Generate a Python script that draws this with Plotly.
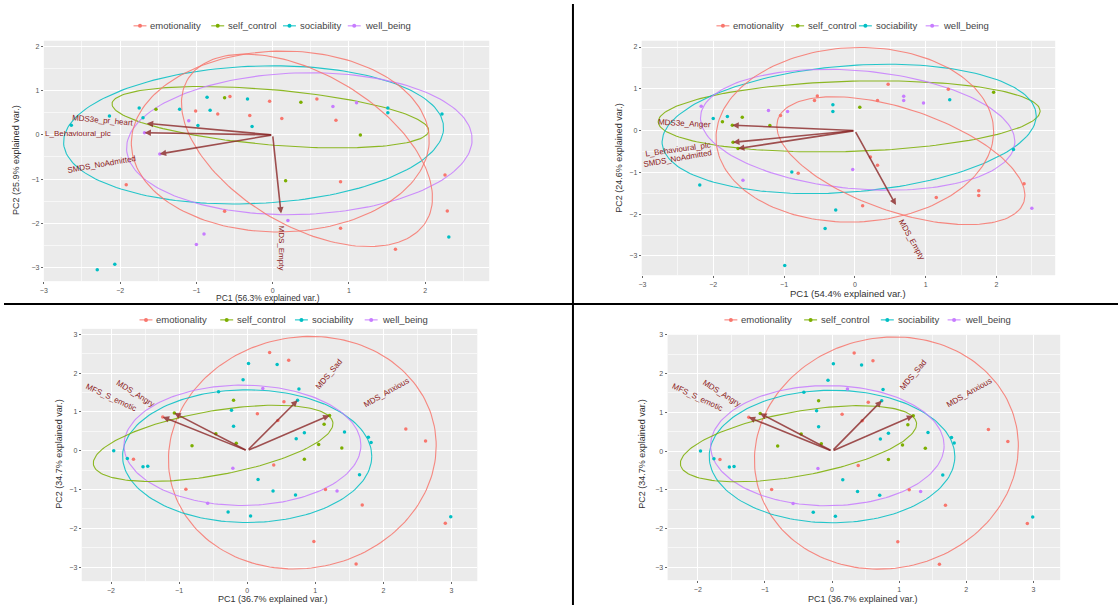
import numpy as np
import plotly.graph_objects as go

W, H = 1118, 605
groups = ["emotionality", "self_control", "sociability", "well_being"]
colors = ["#F8766D", "#7CAE00", "#00BFC4", "#C77CFF"]

# ---------------- Panel 1 (top-left) ----------------
p1_x = [-0.86, -0.63, -0.56, -0.33, -0.04, 0.37, 0.58, 0.79, 1.10, 1.51, 1.51, 2.22, -1.75, -1.53, -1.22,
        -1.01, -0.82, -0.72, -0.30, -2.14, -1.70, -1.10, 0.12, 0.83, -2.64, -0.98, -0.27, 1.15, 2.26, 0.17,
        0.89, -1.92, -0.63, 2.29, 0.20, 0.89, -0.90, 2.31, -1.00, 1.61, -2.07, -2.30, -1.68, -1.48]
p1_y = [0.85, 0.84, 0.87, 0.81, 0.76, 0.74, 0.81, 0.64, 0.73, 0.61, 0.50, 0.47, 0.61, 0.58, 0.58,
        0.54, 0.56, 0.47, 0.44, 0.43, 0.39, 0.32, 0.37, 0.33, 0.22, 0.21, 0.19, 0.00, -0.91, -1.04,
        -1.06, -1.13, -1.73, -1.72, -1.94, -2.11, -2.24, -2.31, -2.48, -2.59, -2.93, -3.05, 0.05, -0.43]
p1_g = [2, 1, 0, 2, 0, 1, 0, 3, 3, 2, 2, 2, 2, 1, 2,
        0, 2, 0, 0, 2, 2, 3, 0, 0, 2, 2, 2, 1, 0, 1,
        0, 0, 0, 0, 3, 0, 3, 2, 3, 0, 2, 2, 3, 3]
p1_arrow_x = [-1.65, -1.68, -1.48, 0.11]
p1_arrow_y = [0.26, 0.05, -0.43, -1.78]
p1_labels = ["MDS3e_pr_heart", "L_Behavioural_plc", "SMDS_NoAdmitted", "MDS_Empty"]
p1_label_x = [-2.22, -2.55, -2.25, 0.11]
p1_label_y = [0.33, 0.02, -0.68, -2.55]
p1_label_ang = [5, 0, -10, 90]
# ellipses: group, centre x, centre y, semi-axis a, semi-axis b, angle (deg)
p1_ell_g = [2, 1, 3, 0, 0]
p1_ell_cx = [-0.25, -0.03, 0.35, 0.45, 0.10]
p1_ell_cy = [0.00, 0.40, -0.20, -0.35, -0.15]
p1_ell_a = [2.50, 2.10, 2.27, 2.40, 1.95]
p1_ell_b = [1.55, 0.62, 1.60, 1.30, 2.05]
p1_ell_ang = [6, -9, 5, -60, -10]

# ---------------- Panel 2 (top-right) ----------------
p2_x = [0.47, 1.32, 1.96, -0.53, 0.69, 0.69, 1.34, 0.97, -0.57, 0.32, -0.31, -0.31, 0.07, -1.22, -0.95,
        -1.05, -2.00, -1.87, -1.80, -1.59, -1.20, 2.24, 0.22, 0.32, -0.03, -0.89, -0.80, -1.58, -2.19, 2.39,
        1.75, 1.75, 1.15, 0.11, 2.50, -0.27, -0.42, -0.99, -1.72, -1.65, -1.73, -2.17]
p2_y = [1.11, 0.99, 0.92, 0.83, 0.82, 0.72, 0.74, 0.66, 0.72, 0.72, 0.62, 0.46, 0.56, 0.48, 0.46,
        0.36, 0.29, 0.21, 0.34, 0.32, 0.12, -0.45, -0.63, -0.83, -0.93, -0.99, -1.02, -1.19, -1.30, -1.27,
        -1.44, -1.55, -1.60, -1.80, -1.86, -1.90, -2.34, -3.23, -0.28, -0.43, 0.13, 0.58]
p2_g = [0, 0, 1, 0, 3, 3, 2, 3, 0, 0, 2, 2, 1, 3, 3,
        0, 2, 1, 2, 1, 1, 2, 0, 0, 3, 2, 0, 3, 2, 0,
        0, 0, 0, 0, 3, 2, 2, 2, 1, 1, 1, 3]
p2_arrow_x = [-1.73, -1.72, -1.65, 0.58]
p2_arrow_y = [0.13, -0.28, -0.43, -1.78]
p2_labels = ["MDS3e_Anger", "L_Behavioural_plc", "SMDS_NoAdmitted", "MDS_Empty"]
p2_label_x = [-2.40, -2.50, -2.50, 0.80]
p2_label_y = [0.17, -0.45, -0.67, -2.61]
p2_label_ang = [3, -8, -10, 61]
p2_ell_g = [1, 2, 3, 0, 0]
p2_ell_cx = [-0.08, -0.08, 0.04, 0.65, 0.00]
p2_ell_cy = [0.34, 0.04, 0.02, -0.72, -0.10]
p2_ell_a = [2.70, 2.67, 2.25, 2.05, 1.95]
p2_ell_b = [0.84, 1.50, 1.40, 1.10, 2.10]
p2_ell_ang = [3, 10, -12, -38, -15]

# ---------------- Panels 3 & 4 (bottom) ----------------
p3_x = [0.33, 0.02, 0.44, 0.61, -0.06, -0.42, 0.23, 0.76, -0.20, 0.54, -0.23, 0.15, -0.20, -0.46, -0.16,
        0.45, 1.13, 1.43, 0.72, 0.84, 1.05, 1.39, 1.78, 1.82, 2.33, 2.62, -0.81, -1.96, -1.76, -1.67,
        -1.53, -1.46, -0.21, 0.84, 0.39, 1.65, 0.16, -0.90, 0.38, 0.71, 1.15, 1.32, -0.58, 1.69, -0.28,
        0.05, 2.99, 2.91, 0.98, 1.60, -1.07, -1.24, 0.74, 1.21]
p3_y = [2.53, 2.25, 2.22, 2.33, 1.83, 1.52, 1.60, 1.59, 1.30, 1.26, 1.04, 0.95, 0.63, 0.44, 0.19,
        0.78, 0.68, 0.48, 0.31, 0.46, 0.16, 0.07, 0.35, 0.21, 0.56, 0.25, 0.13, 0.00, -0.20, -0.22,
        -0.41, -0.40, -0.45, -0.22, -0.37, -0.62, -0.74, -0.99, -1.04, -1.14, -1.00, -1.04, -1.35, -1.40, -1.58,
        -1.68, -1.70, -1.87, -2.34, -2.92, 0.97, 0.87, 1.30, 0.91]
p3_g = [0, 2, 2, 0, 2, 2, 3, 2, 1, 0, 2, 0, 2, 1, 1,
        0, 1, 2, 2, 2, 1, 1, 2, 2, 0, 0, 1, 2, 2, 0,
        2, 2, 3, 1, 0, 2, 2, 0, 2, 2, 0, 3, 3, 0, 2,
        2, 2, 0, 0, 0, 1, 0, 2, 1]
p3_arrow_x = [-1.07, -1.24, 0.74, 1.21]
p3_arrow_y = [0.97, 0.87, 1.30, 0.91]
p3_labels = ["MDS_Angry", "MFS_S_emotic", "MDS_Sad", "MDS_Anxious"]
p3_label_x = [-1.64, -2.00, 1.20, 2.05]
p3_label_y = [1.48, 1.38, 1.96, 1.50]
p3_label_ang = [32, 25, -50, -30]
p3_ell_g = [0, 2, 3, 1]
p3_ell_cx = [0.81, 0.00, -0.07, -0.50]
p3_ell_cy = [-0.05, -0.14, 0.14, 0.19]
p3_ell_a = [1.96, 1.83, 1.74, 1.85]
p3_ell_b = [3.00, 1.71, 1.55, 0.80]
p3_ell_ang = [-4, 0, 0, 20]

x_titles = ["PC1 (56.3% explained var.)", "PC1 (54.4% explained var.)",
            "PC1 (36.7% explained var.)", "PC1 (36.7% explained var.)"]
y_titles = ["PC2 (25.9% explained var.)", "PC2 (24.6% explained var.)",
            "PC2 (34.7% explained var.)", "PC2 (34.7% explained var.)"]

# pixel boxes of the four panels (left, top, right, bottom) and data ranges
boxes = [(40, 37, 487, 279), (640, 37, 1055, 273), (78, 327, 475, 581), (666, 333, 1060, 580)]
xranges = [[-3.0, 2.84], [-3.01, 2.83], [-2.43, 3.38], [-2.45, 3.40]]
yranges = [[-3.31, 2.13], [-3.46, 2.15], [-3.36, 3.14], [-3.33, 3.00]]
# legend: key start x positions per panel (px) and row y
legend_keys_x = [[130, 208, 280, 345], [715, 790, 858, 925], [136, 217, 292, 362], [723, 803, 880, 947]]
legend_y = [22, 22, 318, 318]
xtitle_pos = [(265, 296), (847, 291), (270, 599), (862, 599)]
ytitle_pos = [(12, 157), (617, 155), (55, 453), (640, 453)]
xtitle_size = [8.5, 9.5, 9, 9]

panels = [
    (p1_x, p1_y, p1_g, p1_arrow_x, p1_arrow_y, p1_labels, p1_label_x, p1_label_y, p1_label_ang,
     p1_ell_g, p1_ell_cx, p1_ell_cy, p1_ell_a, p1_ell_b, p1_ell_ang),
    (p2_x, p2_y, p2_g, p2_arrow_x, p2_arrow_y, p2_labels, p2_label_x, p2_label_y, p2_label_ang,
     p2_ell_g, p2_ell_cx, p2_ell_cy, p2_ell_a, p2_ell_b, p2_ell_ang),
    (p3_x, p3_y, p3_g, p3_arrow_x, p3_arrow_y, p3_labels, p3_label_x, p3_label_y, p3_label_ang,
     p3_ell_g, p3_ell_cx, p3_ell_cy, p3_ell_a, p3_ell_b, p3_ell_ang),
    (p3_x, p3_y, p3_g, p3_arrow_x, p3_arrow_y, p3_labels, p3_label_x, p3_label_y, p3_label_ang,
     p3_ell_g, p3_ell_cx, p3_ell_cy, p3_ell_a, p3_ell_b, p3_ell_ang),
]

FONT = "Liberation Sans, Arial, sans-serif"
fig = go.Figure()
annotations = []
shapes = []
layout = {}


def px2paper(x, y):
    return x / W, 1 - y / H


t = np.linspace(0, 2 * np.pi, 181)
for i, (px, py, pg, axx, axy, labs, lx, ly, lang, eg, ecx, ecy, ea, eb, eang) in enumerate(panels):
    n = i + 1
    xa = "x" if n == 1 else f"x{n}"
    ya = "y" if n == 1 else f"y{n}"
    l, tp, r, b = boxes[i]
    base = dict(showgrid=True, gridcolor="white", gridwidth=1.1, zeroline=False, showline=False,
                ticks="outside", ticklen=2, tickcolor="#666", tickwidth=1,
                tickfont=dict(size=7, color="#555", family=FONT), dtick=1, tick0=0,
                minor=dict(dtick=0.5, tick0=0, showgrid=True, gridcolor="#F7F7F7", gridwidth=0.6),
                fixedrange=True)
    layout["xaxis" if n == 1 else f"xaxis{n}"] = dict(base, domain=[l / W, r / W], range=xranges[i], anchor=ya)
    layout["yaxis" if n == 1 else f"yaxis{n}"] = dict(base, domain=[1 - b / H, 1 - tp / H], range=yranges[i], anchor=xa)

    # ellipses
    for g, cx, cy, a, bb, ang in zip(eg, ecx, ecy, ea, eb, eang):
        th = np.deg2rad(ang)
        ex = cx + a * np.cos(t) * np.cos(th) - bb * np.sin(t) * np.sin(th)
        ey = cy + a * np.cos(t) * np.sin(th) + bb * np.sin(t) * np.cos(th)
        fig.add_trace(go.Scatter(x=ex, y=ey, mode="lines", line=dict(color=colors[g], width=1.1),
                                 opacity=0.85, xaxis=xa, yaxis=ya, showlegend=False, hoverinfo="skip"))
    # points
    for g in range(4):
        sx = [x for x, gg in zip(px, pg) if gg == g]
        sy = [y for y, gg in zip(py, pg) if gg == g]
        fig.add_trace(go.Scatter(x=sx, y=sy, mode="markers", marker=dict(color=colors[g], size=3.5),
                                 name=groups[g], xaxis=xa, yaxis=ya, showlegend=False))
    # legend (ggplot-style keys drawn in page pixels)
    for g in range(4):
        kx = legend_keys_x[i][g]
        ky = legend_y[i]
        x0, y0 = px2paper(kx, ky)
        x1, _ = px2paper(kx + 13, ky)
        shapes.append(dict(type="line", xref="paper", yref="paper", x0=x0, x1=x1, y0=y0, y1=y0,
                           line=dict(color=colors[g], width=1)))
        cx0, cy0 = px2paper(kx + 4.5, ky + 2)
        cx1, cy1 = px2paper(kx + 8.5, ky - 2)
        shapes.append(dict(type="circle", xref="paper", yref="paper", x0=cx0, x1=cx1, y0=cy0, y1=cy1,
                           fillcolor=colors[g], line=dict(width=0)))
        tx, ty = px2paper(kx + 15, ky)
        annotations.append(dict(x=tx, y=ty, xref="paper", yref="paper", text=groups[g], showarrow=False,
                                xanchor="left", yanchor="middle",
                                font=dict(size=9.5, color="#444", family=FONT)))
    # arrows
    for ex_, ey_ in zip(axx, axy):
        annotations.append(dict(x=ex_, y=ey_, ax=0, ay=0, xref=xa, yref=ya, axref=xa, ayref=ya,
                                showarrow=True, arrowhead=2, arrowsize=0.8, arrowwidth=1.6,
                                arrowcolor="rgba(139,40,40,0.8)", text=""))
    for txt, tx, ty, ta in zip(labs, lx, ly, lang):
        annotations.append(dict(x=tx, y=ty, xref=xa, yref=ya, text=txt, showarrow=False, textangle=ta,
                                font=dict(size=8, color="#8B1A1A", family=FONT),
                                xanchor="center", yanchor="middle"))
    # axis titles
    xtx, xty = xtitle_pos[i]
    annotations.append(dict(x=xtx / W, y=1 - xty / H, xref="paper", yref="paper", text=x_titles[i],
                            showarrow=False, font=dict(size=xtitle_size[i], color="#333", family=FONT),
                            xanchor="center", yanchor="middle"))
    ytx, yty = ytitle_pos[i]
    annotations.append(dict(x=ytx / W, y=1 - yty / H, xref="paper", yref="paper", text=y_titles[i],
                            showarrow=False, textangle=-90, font=dict(size=9, color="#333", family=FONT),
                            xanchor="center", yanchor="middle"))

shapes += [
    dict(type="line", xref="paper", yref="paper", x0=571 / W, x1=571 / W, y0=0, y1=1,
         line=dict(color="black", width=2)),
    dict(type="line", xref="paper", yref="paper", x0=0, x1=1, y0=1 - 302 / H, y1=1 - 302 / H,
         line=dict(color="black", width=2)),
]

fig.update_layout(width=W, height=H, margin=dict(l=0, r=0, t=0, b=0), paper_bgcolor="white",
                  plot_bgcolor="#EBEBEB", annotations=annotations, shapes=shapes, showlegend=False,
                  font=dict(family=FONT), **layout)
fig.write_html("out.html", config={"displayModeBar": False},
               post_script="document.body.style.margin='0';document.body.style.padding='0';")
